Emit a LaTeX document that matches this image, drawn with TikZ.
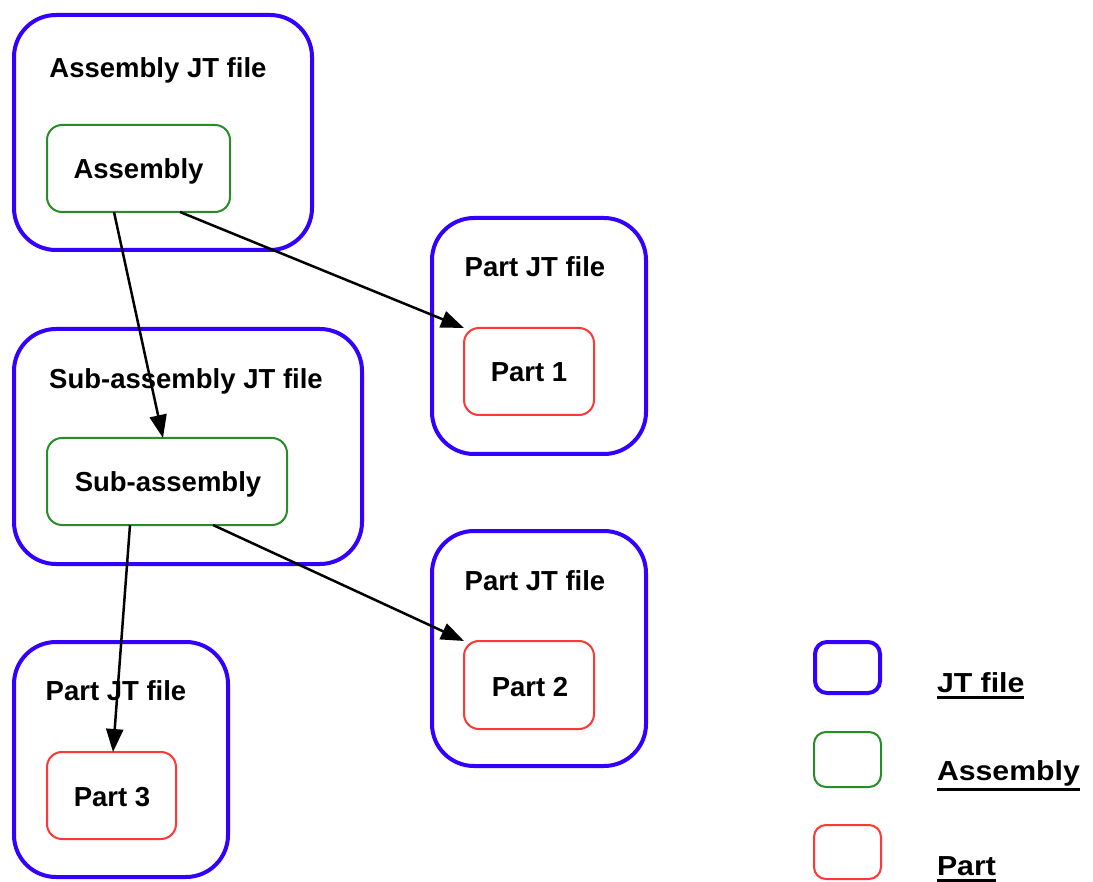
\documentclass[tikz,border=0pt]{standalone}
\usepackage{fontspec}
\setmainfont{Liberation Sans}
\newfontfamily\legfont[FakeStretch=1.1]{Liberation Sans}
\usetikzlibrary{arrows.meta}
\definecolor{jtblue}{RGB}{51,0,255}
\definecolor{asmgreen}{RGB}{40,140,40}
\definecolor{partred}{RGB}{255,55,55}
\begin{document}
\begin{tikzpicture}[x=1pt,y=-1pt,
  every node/.style={outer sep=0pt, font=\fontsize{27.5}{33}\selectfont\bfseries},
  jtbox/.style={draw=jtblue, line width=4pt, rounded corners=42pt, inner sep=0pt},
  asmbox/.style={draw=asmgreen, line width=2pt, rounded corners=15pt, inner sep=0pt},
  partbox/.style={draw=partred, line width=2pt, rounded corners=15pt, inner sep=0pt},
  lbl/.style={anchor=base, inner sep=0pt},
  conn/.style={line width=2.5pt, -{Triangle[length=23pt,width=17pt]}},
  legtext/.style={anchor=base west, inner sep=0pt, font=\legfont\fontsize{27.5}{33}\selectfont\bfseries},
  uline/.style={line width=3pt}
]
\useasboundingbox (0,0) rectangle (1093,882);

% JT file containers
\node[jtbox, minimum width=298pt, minimum height=235pt] (fA) at (163,132.5) {};
\node[jtbox, minimum width=214pt, minimum height=236pt] (fP1) at (539,336) {};
\node[jtbox, minimum width=348pt, minimum height=235pt] (fS) at (188,446.5) {};
\node[jtbox, minimum width=214pt, minimum height=235pt] (fP2) at (539,648.5) {};
\node[jtbox, minimum width=214pt, minimum height=235pt] (fP3) at (121,759.5) {};

% titles
\node[lbl] (tA) at (158,78) {Assembly JT file};
\node[lbl] (tP1) at (535,277) {Part JT file};
\node[lbl] (tS) at (186,389) {Sub-assembly JT file};
\node[lbl] (tP2) at (535,590) {Part JT file};
\node[lbl] (tP3) at (116,700) {Part JT file};

% inner boxes
\node[asmbox, minimum width=183pt, minimum height=87pt] (asm) at (138.5,168.5) {};
\node[lbl] (tasm) at (138.5,179) {Assembly};
\node[asmbox, minimum width=240pt, minimum height=87pt] (sub) at (167,481.5) {};
\node[lbl] (tsub) at (168,492) {Sub-assembly};
\node[partbox, minimum width=130pt, minimum height=87pt] (p1) at (529,371.5) {};
\node[lbl] (tp1) at (529,382) {Part 1};
\node[partbox, minimum width=130pt, minimum height=88pt] (p2) at (529,685) {};
\node[lbl] (tp2) at (530,696) {Part 2};
\node[partbox, minimum width=129pt, minimum height=87pt] (p3) at (111.5,795.5) {};
\node[lbl] (tp3) at (112,806) {Part 3};

% connectors
\draw[conn] ([xshift=-24.5pt]asm.south) -- ([xshift=-4pt]sub.north);
\draw[conn] ([xshift=41.5pt]asm.south) -- (p1.north west);
\draw[conn] ([xshift=46pt]sub.south) -- (p2.north west);
\draw[conn] ([xshift=-37pt]sub.south) -- ([xshift=1.5pt]p3.north);

% legend
\node[jtbox, rounded corners=12pt, minimum width=65pt, minimum height=51pt] (lgJ) at (847.5,667.5) {};
\node[asmbox, rounded corners=12pt, minimum width=67pt, minimum height=55pt] (lgA) at (847.5,759.5) {};
\node[partbox, rounded corners=12pt, minimum width=67pt, minimum height=54pt] (lgP) at (847.5,852) {};
\node[legtext] (lJ) at (937,692) {JT file};
\node[legtext] (lA) at (937,780) {Assembly};
\node[legtext] (lP) at (937,875) {Part};
\draw[uline] ([yshift=-5pt]lJ.base west) -- ([yshift=-5pt]lJ.base east);
\draw[uline] ([yshift=-9pt]lA.base west) -- ([yshift=-9pt]lA.base east);
\draw[uline] ([yshift=-5pt]lP.base west) -- ([yshift=-5pt]lP.base east);
\end{tikzpicture}
\end{document}
